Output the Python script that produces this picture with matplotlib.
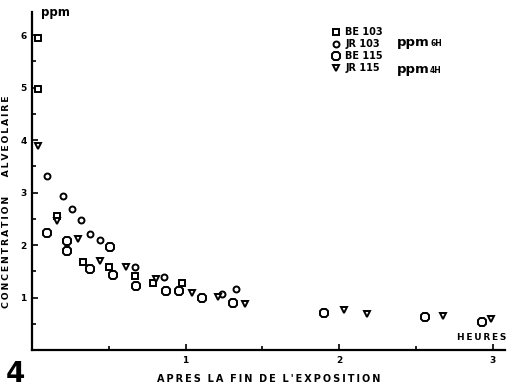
import matplotlib
matplotlib.use("Agg")
import matplotlib.pyplot as plt
from matplotlib.ticker import MultipleLocator

# concentration alveolaire (ppm) en fonction du temps apres exposition (heures)
be103_t = [0.04, 0.04, 0.16, 0.33, 0.50, 0.67, 0.79, 0.98]
be103_c = [5.95, 4.97, 2.55, 1.68, 1.58, 1.41, 1.28, 1.27]

jr103_t = [0.10, 0.20, 0.26, 0.32, 0.38, 0.44, 0.67, 0.86, 1.24, 1.33]
jr103_c = [3.31, 2.93, 2.69, 2.48, 2.22, 2.10, 1.58, 1.39, 1.07, 1.17]

be115_t = [0.10, 0.23, 0.23, 0.38, 0.51, 0.53, 0.68, 0.87, 0.96, 1.11, 1.31,
           1.90, 2.56, 2.93]
be115_c = [2.23, 2.08, 1.89, 1.54, 1.96, 1.43, 1.22, 1.12, 1.12, 0.99, 0.90,
           0.71, 0.63, 0.53]

jr115_t = [0.04, 0.16, 0.30, 0.44, 0.61, 0.81, 1.04, 1.21, 1.39, 2.03, 2.18,
           2.68, 2.99]
jr115_c = [3.88, 2.46, 2.11, 1.70, 1.58, 1.35, 1.09, 1.01, 0.88, 0.76, 0.69,
           0.65, 0.59]


def spaced(s):
    # letter-spaced caps, like the old stencil lettering
    return "\u2009".join(s)


fig = plt.figure(figsize=(5.14, 3.92), dpi=100)
ax = fig.add_axes([0.0623, 0.107, 0.920, 0.862])

kw = dict(linestyle="none", markerfacecolor="white", markeredgecolor="black",
          markeredgewidth=1.4)
h1, = ax.plot(be103_t, be103_c, marker="s", markersize=5, **kw)
h2, = ax.plot(jr103_t, jr103_c, marker="o", markersize=4.3, **kw)
h3, = ax.plot(be115_t, be115_c, marker="8", markersize=6, **kw)
h4, = ax.plot(jr115_t, jr115_c, marker="v", markersize=5, **kw)

ax.set_xlim(0, 3.08)
ax.set_ylim(0, 6.44)
for s in ["top", "right"]:
    ax.spines[s].set_visible(False)
for s in ["left", "bottom"]:
    ax.spines[s].set_linewidth(1.6)

ax.xaxis.set_minor_locator(MultipleLocator(0.5))
ax.yaxis.set_minor_locator(MultipleLocator(0.5))
ax.set_xticks([1, 2, 3])
ax.set_xticklabels(["1", "2", "3"])
ax.set_yticks([1, 2, 3, 4, 5, 6])
ax.tick_params(which="both", direction="in", width=1.2, labelsize=6.5, pad=4)
ax.tick_params(which="major", length=4)
ax.tick_params(which="minor", length=3)
for lab in ax.get_xticklabels() + ax.get_yticklabels():
    lab.set_fontweight("bold")

ax.text(0.02, 1.0, "ppm", transform=ax.transAxes, fontsize=8.5,
        fontweight="bold", va="center", ha="left")
ax.set_ylabel(spaced("CONCENTRATION") + "      " + spaced("ALVEOLAIRE"),
              fontsize=6.7, fontweight="bold")
ax.yaxis.set_label_coords(-0.045, 0.44)
ax.set_xlabel("  ".join(spaced(w) for w in "APRES LA FIN DE L'EXPOSITION".split()),
              fontsize=7, fontweight="bold", labelpad=7)
ax.text(1.003, 0.025, spaced("HEURES"), transform=ax.transAxes, fontsize=6.5,
        fontweight="bold", ha="right", va="bottom")
fig.text(0.012, 0.025, "4", fontsize=20, fontweight="bold")

ax.legend([h1, h2, h3, h4], ["BE 103", "JR 103", "BE 115", "JR 115"],
          loc="upper left", bbox_to_anchor=(0.625, 0.97), frameon=False,
          prop={"size": 7, "weight": "bold"}, handlelength=0.8,
          handletextpad=0.5, labelspacing=0.2, borderpad=0)
ax.text(0.772, 0.91, "ppm", transform=ax.transAxes, fontsize=9.5,
        fontweight="bold", va="center")
ax.text(0.842, 0.907, "6H", transform=ax.transAxes, fontsize=5.5,
        fontweight="bold", va="center")
ax.text(0.772, 0.83, "ppm", transform=ax.transAxes, fontsize=9.5,
        fontweight="bold", va="center")
ax.text(0.842, 0.827, "4H", transform=ax.transAxes, fontsize=5.5,
        fontweight="bold", va="center")

fig.savefig("out.png", dpi=100)
